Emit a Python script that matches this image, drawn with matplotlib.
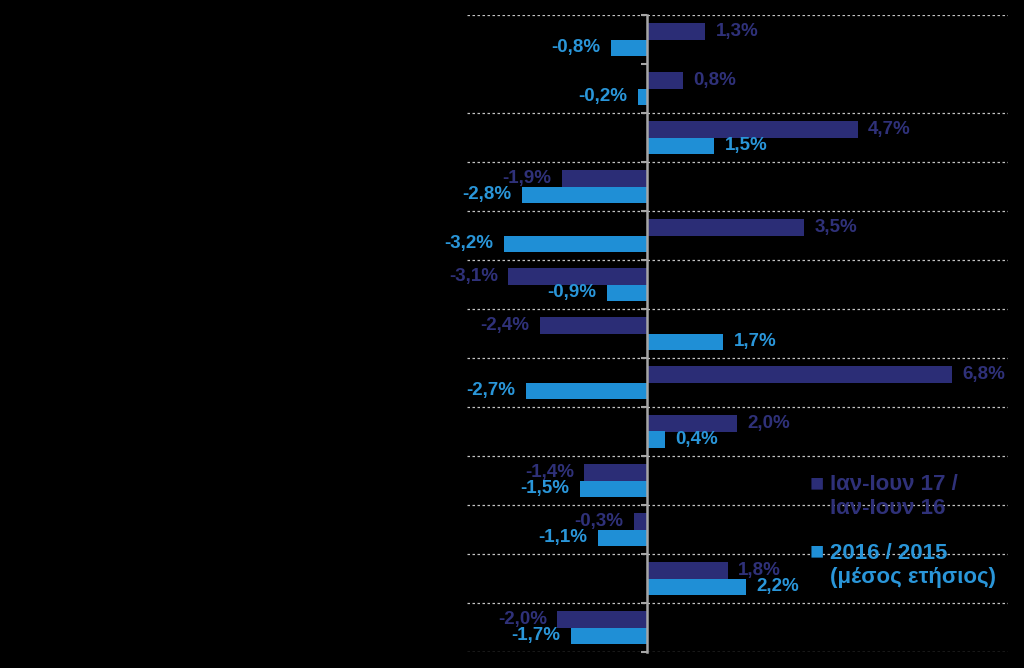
import numpy as np
import matplotlib
matplotlib.use("Agg")
import matplotlib.pyplot as plt

plt.rcParams['font.family'] = ['Liberation Sans', 'DejaVu Sans']

# values (%), top to bottom
jan_jun = [1.3, 0.8, 4.7, -1.9, 3.5, -3.1, -2.4, 6.8, 2.0, -1.4, -0.3, 1.8, -2.0]
y2016 = [-0.8, -0.2, 1.5, -2.8, -3.2, -0.9, 1.7, -2.7, 0.4, -1.5, -1.1, 2.2, -1.7]
series_names = ["Ιαν-Ιουν 17 /\nΙαν-Ιουν 16", "2016 / 2015\n(μέσος ετήσιος)"]

navy = "#2b2d76"
navy_txt = "#2f3179"
blue = "#1f8fd6"
blue_txt = "#2a96d9"

n = len(jan_jun)
y = np.arange(n)
h = 0.33

fig = plt.figure(figsize=(10.24, 6.68), dpi=100, facecolor="black")
ax = fig.add_axes([467 / 1024, 16 / 668, 541 / 1024, 637 / 668])
ax.set_facecolor("black")

b1 = ax.barh(y - h / 2, jan_jun, height=h, color=navy)
b2 = ax.barh(y + h / 2, y2016, height=h, color=blue)

def label(bars, vals, col):
    for rect, v in zip(bars, vals):
        txt = f"{v:.1f}%".replace(".", ",")
        off = 7.5 if v >= 0 else -7.5
        ax.annotate(txt, (v, rect.get_y() + rect.get_height() / 2),
                    xytext=(off, 0), textcoords="offset points",
                    ha="left" if v >= 0 else "right", va="center",
                    color=col, fontsize=13.5, fontweight="bold")

label(b1, jan_jun, navy_txt)
label(b2, y2016, blue_txt)

ax.set_xlim(-4.02, 8.06)
ax.set_ylim(n - 0.5, -0.5)

# dotted separators between groups (none under the first group in the original)
bounds = np.arange(-0.5, n, 1.0)
grid_at = [b for b in bounds if abs(b - 0.5) > 1e-9]
ax.hlines(grid_at, -4.02, 8.06, colors="#c4c4c4", linestyles=(0, (2, 2)), linewidth=0.9, zorder=0)

for s in ["top", "right", "bottom"]:
    ax.spines[s].set_visible(False)
ax.spines["left"].set_position(("data", 0))
ax.spines["left"].set_color("#a6a6a6")
ax.spines["left"].set_linewidth(1.8)
ax.set_xticks([])
ax.set_yticks(bounds)
ax.set_yticklabels([])
ax.tick_params(axis="y", direction="out", length=4, width=1.5, color="#a6a6a6")

# legend
fig.text(810 / 1024, 1 - 484 / 668, "■", color=navy, fontsize=17, va="center")
fig.text(830 / 1024, 1 - 474 / 668, series_names[0], color=navy_txt, fontsize=16,
         fontweight="bold", va="top", linespacing=1.2)
fig.text(810 / 1024, 1 - 552 / 668, "■", color=blue, fontsize=17, va="center")
fig.text(830 / 1024, 1 - 543 / 668, series_names[1], color=blue_txt, fontsize=16,
         fontweight="bold", va="top", linespacing=1.2)

fig.savefig("out.png", dpi=100, facecolor="black")
